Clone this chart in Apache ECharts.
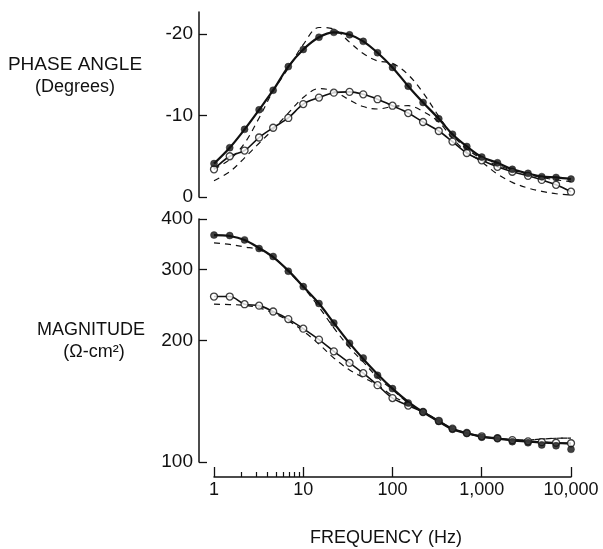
<!DOCTYPE html>
<html>
<head>
<meta charset="utf-8">
<script src="https://cdn.jsdelivr.net/npm/echarts@6/dist/echarts.min.js"></script>
<style>
html,body{margin:0;padding:0;background:#fff;}
#chart{width:603px;height:549px;}
</style>
</head>
<body>
<div id="chart"></div>
<script>
// Frequencies (Hz)
const freqs = [1,1.5,2.2,3.2,4.6,6.8,10,15,22,33,47,68,100,150,220,330,470,680,1000,1500,2200,3300,4700,6800,10000];

// Phase angle (degrees)
const phaseFilled = [-4.1,-6.05,-8.3,-10.7,-13.1,-16.0,-18.1,-19.6,-20.2,-19.9,-19.1,-17.7,-15.9,-13.6,-11.6,-9.6,-7.7,-6.2,-4.9,-4.2,-3.4,-2.9,-2.5,-2.4,-2.2];
const phaseOpen = [-3.4,-5.0,-5.7,-7.3,-8.5,-9.7,-11.4,-12.2,-12.8,-12.9,-12.6,-12.0,-11.2,-10.3,-9.2,-8.1,-6.8,-5.4,-4.5,-3.7,-3.1,-2.6,-2.1,-1.5,-0.65];
const phaseFilledModel = [-3.4,-4.6,-6.6,-9.7,-13.0,-15.8,-18.7,-20.8,-20.6,-19.0,-17.6,-16.7,-16.4,-15.0,-12.8,-9.9,-7.6,-5.9,-4.7,-3.9,-3.3,-2.8,-2.4,-2.1,-1.9];
const phaseOpenModel = [-2.0,-3.1,-4.8,-6.6,-8.3,-10.3,-12.2,-13.3,-13.0,-11.9,-11.1,-10.8,-11.1,-11.2,-10.5,-9.2,-7.2,-5.5,-4.3,-2.8,-1.8,-1.1,-0.7,-0.4,-0.25];

// Magnitude (ohm-cm2)
const magFilled = [365,364,355,338,323,297,272,247,221,197,181,164,152,140,133,126,120.5,117.8,115.2,114.5,112.3,111.6,110.2,109.7,107.5];
const magFilledFit = [365,363,355,339,322,298,272,247,221,197,180,165,152,141,133,126,120.5,117.8,115.5,114.2,113.2,112.3,111.8,111.4,111.1];
const magOpen = [257,257,246,244,236,226,214,201,188,176,166,155,144,138,133,126.5,121,118,115.8,114.5,113.3,112.5,112,111.6,111.3];
const magFilledModel = [349,346,341,336,322,297,271,242,215,192,177,162,151,140,133,126,120.5,117.8,115.4,114.3,113.6,113.5,114,114.5,114.6];
const magOpenModel = [246,245.5,244.5,241,234,224,211,196,181,169,162,155,146,139,133,126,120.5,117.8,115.4,114.3,113.6,113.5,114,114.5,114.6];

// Tick labels
const xMajorTicks = [1,10,100,1000,10000];
const xMinorTicks = [2,3,4,5,6,7,8,9];
const phaseTicks = [-20,-10,0];
const magTicks = [100,200,300,400];

function pairs(xs, ys){ return xs.map((x,i)=>[x, ys[i]]); }

const FONT = 'Liberation Sans';
const INK = '#111';

const chart = echarts.init(document.getElementById('chart'), null, {renderer:'canvas'});

const hiddenX = (g)=>({type:'log', logBase:10, min:1, max:10000, gridIndex:g, show:false});

function solid(name, data, xi, yi, w){
  return {name, type:'line', xAxisIndex:xi, yAxisIndex:yi, data, smooth:0.35, showSymbol:false, symbol:'none',
    lineStyle:{color:INK, width:w}, z:3, silent:true, animation:false};
}
function dashed(name, data, xi, yi){
  return {name, type:'line', xAxisIndex:xi, yAxisIndex:yi, data, smooth:0.35, showSymbol:false, symbol:'none',
    lineStyle:{color:INK, width:1.2, type:[6,5]}, z:2, silent:true, animation:false};
}
function pts(name, data, xi, yi, filled){
  return {name, type:'scatter', xAxisIndex:xi, yAxisIndex:yi, data, symbol:'circle', symbolSize:7,
    itemStyle: filled ? {color:INK, borderColor:INK, borderWidth:0.5} : {color:'#fff', borderColor:INK, borderWidth:1.3},
    z: filled ? 6 : 5, silent:true, animation:false};
}

const option = {
  backgroundColor:'#fff',
  animation:false,
  grid:[
    {left:214, right:32, top:12, height:185},
    {left:214, right:32, top:219, height:243},
    {left:214, right:32, top:440, height:37}
  ],
  xAxis:[
    hiddenX(0),
    hiddenX(1),
    {type:'log', logBase:10, min:1, max:10000, gridIndex:2, position:'bottom',
     axisLine:{show:true, lineStyle:{color:INK, width:1.5}},
     axisTick:{show:true, inside:true, length:10, lineStyle:{color:INK, width:1.3}, customValues:xMajorTicks},
     axisLabel:{show:true, customValues:xMajorTicks, margin:4, fontFamily:FONT, fontSize:18, color:INK,
       formatter:(v)=>Math.round(v).toString().replace(/\B(?=(\d{3})+(?!\d))/g, ',')},
     splitLine:{show:false}, minorTick:{show:false}},
    {type:'log', logBase:10, min:1, max:10000, gridIndex:2, position:'bottom',
     axisLine:{show:false},
     axisTick:{show:true, inside:true, length:5, lineStyle:{color:INK, width:1.2}, customValues:xMinorTicks},
     axisLabel:{show:false}, splitLine:{show:false}}
  ],
  yAxis:[
    {type:'value', gridIndex:0, inverse:true, min:-22.7, max:0, offset:15,
     axisLine:{show:true, lineStyle:{color:INK, width:1.5}},
     axisTick:{show:true, inside:true, length:8, lineStyle:{color:INK, width:1.3}, customValues:phaseTicks},
     axisLabel:{show:true, customValues:phaseTicks, margin:6, fontFamily:FONT, fontSize:19, color:INK,
       formatter:(v)=>String(v)},
     splitLine:{show:false}},
    {type:'log', logBase:10, gridIndex:1, min:100, max:400, offset:15,
     axisLine:{show:true, lineStyle:{color:INK, width:1.5}},
     axisTick:{show:true, inside:true, length:8, lineStyle:{color:INK, width:1.3}, customValues:magTicks},
     axisLabel:{show:true, customValues:magTicks, margin:6, fontFamily:FONT, fontSize:19, color:INK,
       formatter:(v)=>String(Math.round(v))},
     splitLine:{show:false}, minorTick:{show:false}},
    {type:'value', gridIndex:2, min:0, max:1, show:false}
  ],
  graphic:[
    {type:'text', x:75, y:65, style:{text:'PHASE ANGLE', fontFamily:FONT, fontSize:19, fill:INK, textAlign:'center', textVerticalAlign:'middle'}},
    {type:'text', x:75, y:87, style:{text:'(Degrees)', fontFamily:FONT, fontSize:18, fill:INK, textAlign:'center', textVerticalAlign:'middle'}},
    {type:'text', x:91, y:330, style:{text:'MAGNITUDE', fontFamily:FONT, fontSize:18, fill:INK, textAlign:'center', textVerticalAlign:'middle'}},
    {type:'text', x:94, y:352, style:{text:'(\u03A9-cm\u00B2)', fontFamily:FONT, fontSize:18, fill:INK, textAlign:'center', textVerticalAlign:'middle'}},
    {type:'text', x:386, y:538, style:{text:'FREQUENCY (Hz)', fontFamily:FONT, fontSize:18, fill:INK, textAlign:'center', textVerticalAlign:'middle'}}
  ],
  series:[
    dashed('Phase model (filled)', pairs(freqs, phaseFilledModel), 0, 0),
    dashed('Phase model (open)', pairs(freqs, phaseOpenModel), 0, 0),
    solid('Phase fit (open)', pairs(freqs, phaseOpen), 0, 0, 1.6),
    solid('Phase fit (filled)', pairs(freqs, phaseFilled), 0, 0, 2.2),
    pts('Phase open', pairs(freqs, phaseOpen), 0, 0, false),
    pts('Phase filled', pairs(freqs, phaseFilled), 0, 0, true),

    dashed('Magnitude model (filled)', pairs(freqs, magFilledModel), 1, 1),
    dashed('Magnitude model (open)', pairs(freqs, magOpenModel), 1, 1),
    solid('Magnitude fit (open)', pairs(freqs, magOpen), 1, 1, 1.6),
    solid('Magnitude fit (filled)', pairs(freqs, magFilledFit), 1, 1, 2.2),
    pts('Magnitude open', pairs(freqs, magOpen), 1, 1, false),
    pts('Magnitude filled', pairs(freqs, magFilled), 1, 1, true)
  ]
};
chart.setOption(option);
</script>
</body>
</html>
